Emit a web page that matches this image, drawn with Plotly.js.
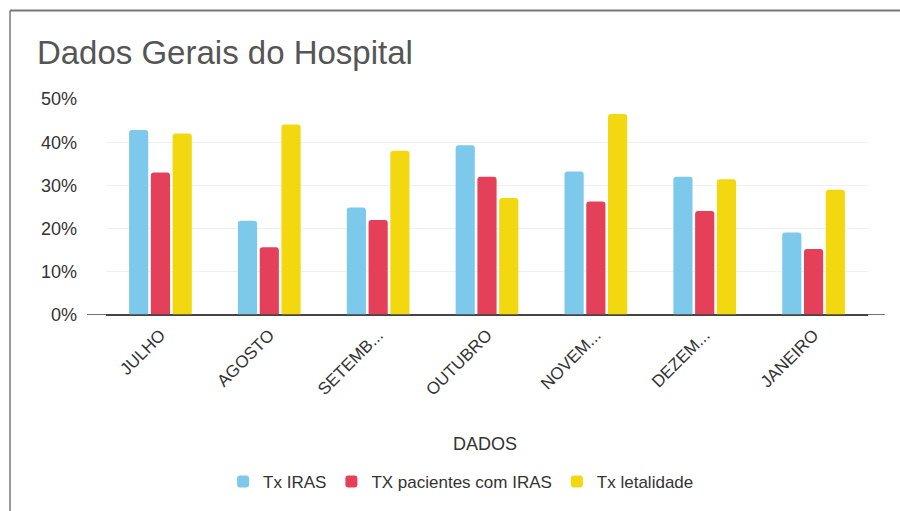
<!DOCTYPE html>
<html>
<head>
<meta charset="utf-8">
<script src="https://cdn.plot.ly/plotly-3.0.1.min.js"></script>
<style>html,body{margin:0;padding:0;background:#fff;}#chart{width:900px;height:511px;}</style>
</head>
<body>
<div id="chart"></div>
<script>
const categories = ["JULHO","AGOSTO","SETEMB...","OUTUBRO","NOVEM...","DEZEM...","JANEIRO"];
const seriesNames = ["Tx IRAS","TX pacientes com IRAS","Tx letalidade"];
const txIras = [42.8, 21.8, 24.9, 39.3, 33.2, 32.0, 19.1];
const txPacientes = [33.0, 15.7, 22.0, 32.0, 26.3, 24.1, 15.3];
const txLetalidade = [42.0, 44.1, 38.0, 27.1, 46.5, 31.4, 29.0];
const yTicks = [0, 10, 20, 30, 40, 50];

const colors = ["#7cc9ec", "#e4405a", "#f3d70f"];
const values = [txIras, txPacientes, txLetalidade];

const data = values.map((v, i) => ({
  type: "bar",
  name: seriesNames[i],
  x: categories,
  y: v,
  marker: {color: colors[i], cornerradius: 3},
  hoverinfo: "x+y+name"
}));

const layout = {
  width: 900, height: 511,
  margin: {l: 106, r: 32, t: 99, b: 196, autoexpand: false},
  paper_bgcolor: "#ffffff",
  plot_bgcolor: "#ffffff",
  font: {family: "Liberation Sans, Arial, sans-serif", color: "#333"},
  title: {text: "Dados Gerais do Hospital", x: 0.041, xanchor: "left", y: 0.897, yanchor: "middle",
          font: {size: 33, color: "#555", family: "Liberation Sans, Arial, sans-serif"}},
  barmode: "group",
  bargap: 0.40,
  bargroupgap: 0.12,
  xaxis: {
    type: "category",
    tickangle: -45,
    tickfont: {size: 17, color: "#333"},
    showgrid: false,
    showline: false,
    zeroline: false,
    automargin: false,
    ticklabelstandoff: 6
  },
  yaxis: {
    range: [0, 50],
    tickvals: yTicks,
    ticktext: yTicks.map(t => t + "%"),
    tickfont: {size: 18, color: "#333"},
    showgrid: true,
    gridcolor: "#f0f0f0",
    zeroline: true,
    zerolinecolor: "#444",
    zerolinewidth: 1.5,
    showline: false,
    automargin: false,
    ticklabelstandoff: 28
  },
  legend: {orientation: "h", x: 0.466, xanchor: "center", y: -0.773, yanchor: "middle",
           font: {size: 17, color: "#333"}},
  annotations: [
    {text: "DADOS", xref: "paper", yref: "paper", x: 0.497, y: -0.597, xanchor: "center", yanchor: "middle",
     showarrow: false, font: {size: 18, color: "#333"}}
  ],
  shapes: [
    {type: "line", xref: "paper", yref: "y", x0: -0.025, x1: 1.022, y0: 0, y1: 0,
     line: {color: "#444", width: 1.5}},
    {type: "line", xref: "paper", yref: "paper", x0: -0.126, x1: -0.126, y0: 1.41, y1: -0.95,
     line: {color: "#999", width: 2}},
    {type: "line", xref: "paper", yref: "paper", x0: -0.126, x1: 1.1, y0: 1.41, y1: 1.41,
     line: {color: "#777", width: 2}}
  ]
};

Plotly.newPlot("chart", data, layout, {displayModeBar: false});
</script>
</body>
</html>
